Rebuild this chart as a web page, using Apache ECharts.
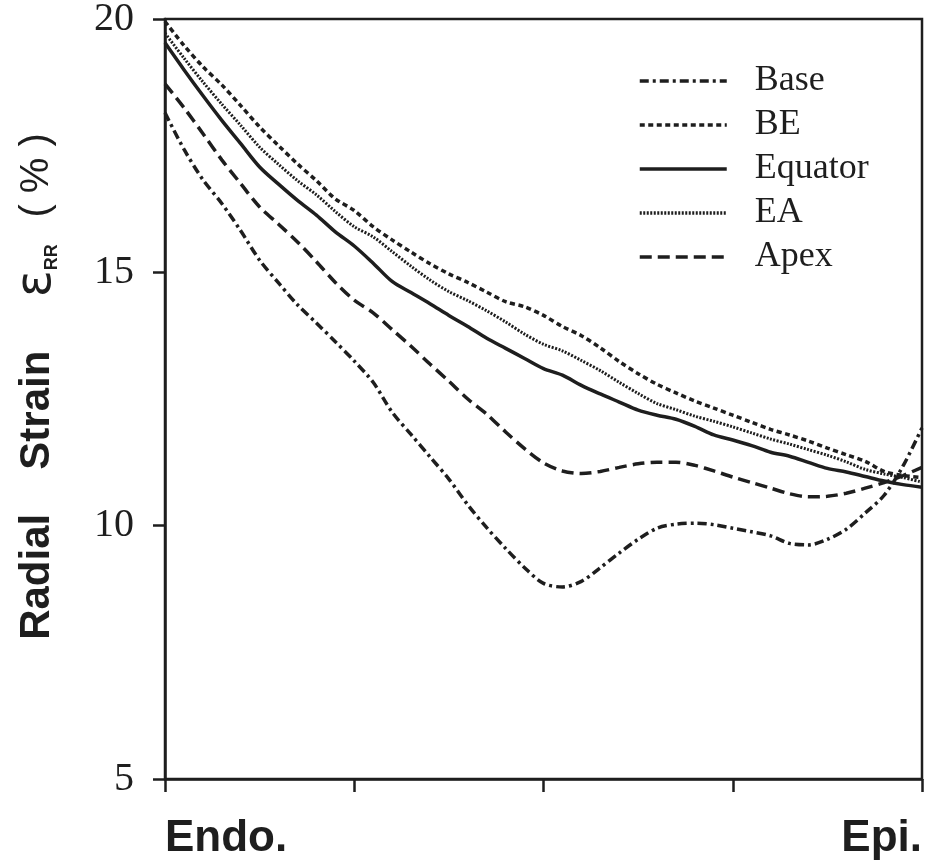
<!DOCTYPE html>
<html>
<head>
<meta charset="utf-8">
<script src="https://cdn.jsdelivr.net/npm/echarts@6/dist/echarts.min.js"></script>
<style>
html,body{margin:0;padding:0;background:#fff;}
#chart{width:934px;height:866px;}
</style>
</head>
<body>
<div id="chart"></div>
<script>
// positions through the wall (0 = Endo., 100 = Epi.)
var xPos = [0,2.5,5,7.5,10,12.5,15,17.5,20,22.5,25,27.5,30,32.5,35,37.5,40,42.5,45,47.5,50,
            52.5,55,57.5,60,62.5,65,67.5,70,72.5,75,77.5,80,82.5,85,87.5,90,92.5,95,97.5,100];
var xTickLabels = {0: 'Endo.', 100: 'Epi.'};
var seriesNames = ['Base','BE','Equator','EA','Apex'];
var base    = [18.15,17.43,16.83,16.36,15.82,15.24,14.79,14.36,14.00,13.63,13.25,12.83,12.24,11.80,11.36,10.92,10.41,9.96,9.55,9.17,8.86,
               8.79,8.90,9.17,9.46,9.73,9.95,10.03,10.05,10.02,9.95,9.88,9.80,9.65,9.62,9.73,9.93,10.25,10.60,11.18,11.93];
var be      = [19.95,19.48,19.06,18.70,18.29,17.87,17.50,17.14,16.81,16.45,16.22,15.90,15.64,15.40,15.17,14.97,14.80,14.61,14.42,14.32,14.15,
               13.93,13.75,13.51,13.24,13.00,12.79,12.62,12.46,12.32,12.18,12.04,11.90,11.79,11.67,11.53,11.40,11.27,11.07,10.99,10.95];
var equator = [19.53,19.00,18.49,18.00,17.54,17.08,16.74,16.42,16.13,15.80,15.52,15.18,14.82,14.60,14.38,14.15,13.93,13.70,13.50,13.30,13.10,
               12.97,12.77,12.60,12.44,12.28,12.18,12.10,11.96,11.79,11.69,11.58,11.45,11.37,11.25,11.13,11.06,10.97,10.88,10.81,10.76];
var ea      = [19.72,19.23,18.76,18.32,17.90,17.47,17.13,16.81,16.53,16.20,15.90,15.70,15.41,15.12,14.85,14.62,14.44,14.24,14.02,13.78,13.58,
               13.45,13.26,13.06,12.83,12.61,12.41,12.29,12.16,12.06,11.95,11.83,11.71,11.61,11.50,11.39,11.26,11.11,11.02,10.95,10.86];
var apex    = [18.72,18.25,17.74,17.22,16.75,16.29,15.95,15.60,15.21,14.80,14.45,14.20,13.87,13.54,13.19,12.85,12.50,12.20,11.85,11.52,11.24,
               11.08,11.03,11.07,11.15,11.22,11.25,11.25,11.19,11.08,10.96,10.85,10.74,10.63,10.57,10.58,10.64,10.74,10.85,10.99,11.15];

var ink = '#1e1e1e';
function pairs(vals){ return xPos.map(function(x,i){ return [x, vals[i]]; }); }
function mk(name, vals, type, width){
  return {
    name: name, type: 'line', data: pairs(vals), smooth: 0.3,
    symbol: 'none', showSymbol: false, clip: true,
    lineStyle: {color: ink, width: width, type: type},
    itemStyle: {color: ink},
    emphasis: {disabled: true}
  };
}

var chart = echarts.init(document.getElementById('chart'), null, {renderer: 'canvas'});
chart.setOption({
  animation: false,
  backgroundColor: '#fff',
  grid: {left: 165, right: 12, top: 19, bottom: 87, containLabel: false, outerBoundsMode: 'none',
         show: true, borderColor: ink, borderWidth: 2.5, backgroundColor: 'transparent'},
  legend: {
    orient: 'vertical', left: 633, top: 54,
    itemWidth: 87, itemHeight: 14, itemGap: 0,
    selectedMode: false,
    data: seriesNames,
    itemStyle: {opacity: 0, borderWidth: 0},
    lineStyle: {width: 3.5},
    textStyle: {fontFamily: 'Liberation Serif', fontSize: 36, color: ink, lineHeight: 44, padding: [0,0,0,23]}
  },
  xAxis: {
    type: 'value', min: 0, max: 100, interval: 25,
    axisLine: {show: true, onZero: false, lineStyle: {color: ink, width: 2.5}},
    axisTick: {show: true, inside: false, length: 13, lineStyle: {color: ink, width: 2.5}},
    splitLine: {show: false},
    axisLabel: {
      show: true, margin: 38, alignMinLabel: 'left', alignMaxLabel: 'right',
      fontFamily: 'Liberation Sans', fontWeight: 'bold', fontSize: 44, color: ink,
      formatter: function(v){ return xTickLabels[v] || ''; }
    }
  },
  yAxis: {
    type: 'value', min: 5, max: 20, interval: 5,
    axisLine: {show: true, onZero: false, lineStyle: {color: ink, width: 2.5}},
    axisTick: {show: true, inside: false, length: 12, lineStyle: {color: ink, width: 2.5}},
    splitLine: {show: false},
    axisLabel: {margin: 31, fontFamily: 'Liberation Serif', fontSize: 40, color: ink},
    name: '{g0| }{b|Radial}{g1|   }{b|Strain}{g2|    }{e|ε}{s|RR}{g3|  }{p|( % )}',
    nameLocation: 'middle', nameRotate: 90, nameGap: 104,
    nameTextStyle: {
      color: ink,
      rich: {
        g0: {fontFamily: 'Liberation Sans', fontSize: 90, lineHeight: 48},
        b: {fontFamily: 'Liberation Sans', fontWeight: 'bold', fontSize: 42, lineHeight: 48, color: ink},
        g1: {fontFamily: 'Liberation Sans', fontSize: 53, lineHeight: 48},
        g2: {fontFamily: 'Liberation Sans', fontSize: 48, lineHeight: 48},
        g3: {fontFamily: 'Liberation Sans', fontSize: 48, lineHeight: 48},
        e: {fontFamily: 'DejaVu Sans', fontSize: 50, lineHeight: 48, color: ink},
        s: {fontFamily: 'Liberation Sans', fontWeight: 'bold', fontSize: 18, lineHeight: 20, verticalAlign: 'bottom', color: ink},
        p: {fontFamily: 'Liberation Sans', fontSize: 40, lineHeight: 48, color: ink}
      }
    }
  },
  series: [
    mk('Base', base, [9,4,3,4], 3.5),
    mk('BE', be, [5,3.5], 3.5),
    mk('Equator', equator, 'solid', 3.5),
    mk('EA', ea, [2,1.5], 3),
    mk('Apex', apex, [12,6], 3.5)
  ]
});
</script>
</body>
</html>
